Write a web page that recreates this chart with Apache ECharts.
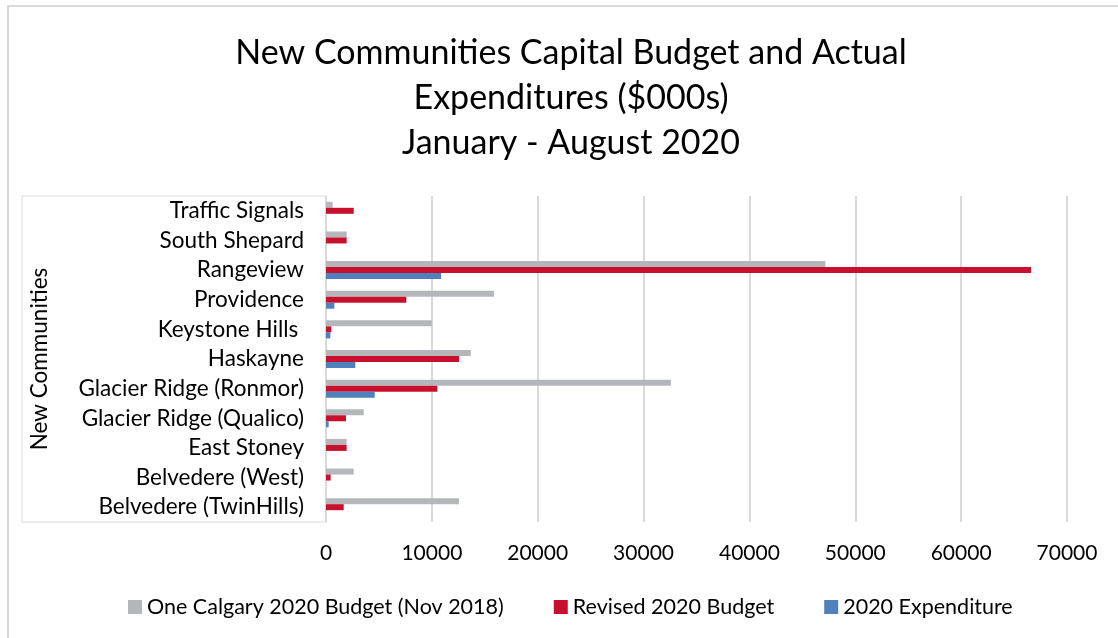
<!DOCTYPE html>
<html>
<head>
<meta charset="utf-8">
<script src="https://cdn.jsdelivr.net/npm/echarts@6/dist/echarts.min.js"></script>
<style>
  html, body { margin: 0; padding: 0; background: #fff; }
  #chart { width: 1118px; height: 638px; }
</style>
</head>
<body>
<div id="chart"></div>
<script>
// Communities, listed bottom to top as the category axis runs
const communities = [
  'Belvedere (TwinHills)',
  'Belvedere (West)',
  'East Stoney',
  'Glacier Ridge (Qualico)',
  'Glacier Ridge (Ronmor)',
  'Haskayne',
  'Keystone Hills ',
  'Providence',
  'Rangeview',
  'South Shepard',
  'Traffic Signals'
];

// Values in $000s
const oneCalgaryBudget = [12570, 2620, 1950, 3560, 32580, 13680, 9990, 15880, 47170, 1950, 630];
const revisedBudget    = [1670, 440, 1950, 1890, 10520, 12570, 500, 7590, 66600, 1950, 2620];
const expenditure      = [0, 0, 0, 250, 4600, 2770, 410, 790, 10870, 0, 0];

const xTicks = { min: 0, max: 70000, interval: 10000 };

const seriesNames = [
  'One Calgary 2020 Budget (Nov 2018)',
  'Revised 2020 Budget',
  '2020 Expenditure'
];
const seriesColors = ['#b4b6ba', '#c8102e', '#4f81bd'];
const seriesData = [oneCalgaryBudget, revisedBudget, expenditure];

const FONT = 'Lato';

const chart = echarts.init(document.getElementById('chart'), null, { renderer: 'canvas' });

chart.setOption({
  animation: false,
  backgroundColor: '#ffffff',
  textStyle: { fontFamily: FONT, color: '#000' },
  title: {
    text: 'New Communities Capital Budget and Actual\nExpenditures ($000s)\nJanuary - August 2020',
    left: 566,
    top: 26,
    textAlign: 'center',
    textStyle: {
      fontFamily: FONT,
      fontSize: 34,
      fontWeight: 'normal',
      color: '#000',
      lineHeight: 45
    }
  },
  legend: {
    bottom: 15,
    left: 123,
    itemWidth: 14,
    itemHeight: 14,
    itemGap: 50,
    icon: 'rect',
    textStyle: { fontFamily: FONT, fontSize: 21.5, color: '#000' },
    data: seriesNames
  },
  grid: {
    left: 326,
    right: 51,
    top: 196,
    bottom: 116,
    containLabel: false
  },
  xAxis: {
    type: 'value',
    min: xTicks.min,
    max: xTicks.max,
    interval: xTicks.interval,
    axisLine: { show: false },
    axisTick: { show: false },
    axisLabel: {
      fontFamily: FONT,
      fontSize: 21,
      color: '#000',
      margin: 21,
      formatter: (v) => String(v)
    },
    splitLine: { lineStyle: { color: '#d9d9d9', width: 2 } }
  },
  yAxis: {
    type: 'category',
    data: communities,
    name: 'New Communities',
    nameLocation: 'middle',
    nameRotate: 90,
    nameGap: 275,
    nameTextStyle: { fontFamily: FONT, fontSize: 22.5, color: '#000' },
    axisLine: { show: true, lineStyle: { color: '#d9d9d9', width: 1 } },
    axisTick: { show: false },
    axisLabel: {
      interval: 0,
      fontFamily: FONT,
      fontSize: 22.5,
      color: '#000',
      margin: 22
    }
  },
  graphic: [
    {
      type: 'rect',
      shape: { x: 8, y: 6, width: 1200, height: 700 },
      style: { fill: 'none', stroke: '#d9d9d9', lineWidth: 2 },
      silent: true,
      z: -10
    },
    {
      type: 'rect',
      shape: { x: 22, y: 196, width: 304, height: 326 },
      style: { fill: 'none', stroke: '#d9d9d9', lineWidth: 1 },
      silent: true,
      z: -10
    }
  ],
  series: seriesNames.map((name, i) => ({
    name: name,
    type: 'bar',
    data: seriesData[i],
    barWidth: 6,
    barGap: '0%',
    itemStyle: { color: seriesColors[i] }
  }))
});
</script>
</body>
</html>
